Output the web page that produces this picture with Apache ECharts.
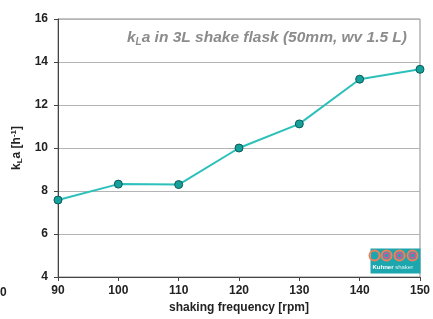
<!DOCTYPE html>
<html>
<head>
<meta charset="utf-8">
<script src="https://cdn.jsdelivr.net/npm/echarts@6/dist/echarts.min.js"></script>
<style>
  html, body { margin: 0; padding: 0; background: #fff; }
  #chart { width: 433px; height: 319px; }
</style>
</head>
<body>
<div id="chart"></div>
<script>
// shaking frequency [rpm] and measured kLa [1/h]
const rpm = [90, 100, 110, 120, 130, 140, 150]
const kla = [7.58, 8.32, 8.3, 10.0, 11.12, 13.2, 13.66]

const font = 'Liberation Sans, Arial, sans-serif'

const chart = echarts.init(document.getElementById('chart'))
chart.setOption({
  animation: false,
  backgroundColor: '#fff',
  grid: { left: 58, right: 12, top: 19, bottom: 42, show: true, borderColor: '#8a8a8a', borderWidth: 1 },
  title: {
    right: 21,
    top: 23,
    text: '{t|k}{s|L}{t|a in 3L shake flask (50mm, wv 1.5 L)}',
    textStyle: {
      rich: {
        t: { fontFamily: font, fontSize: 15.5, fontWeight: 'bold', fontStyle: 'italic', color: '#8c8c8c' },
        s: { fontFamily: font, fontSize: 10, fontWeight: 'bold', fontStyle: 'italic', color: '#8c8c8c', padding: [9, 0, 0, 0] }
      }
    }
  },
  xAxis: {
    type: 'value',
    min: 90,
    max: 150,
    interval: 10,
    name: 'shaking frequency [rpm]',
    nameLocation: 'middle',
    nameGap: 25,
    nameTextStyle: { fontFamily: font, fontSize: 12, fontWeight: 'bold', color: '#222' },
    axisLine: { lineStyle: { color: '#444' } },
    axisTick: { show: true, length: 4, lineStyle: { color: '#444' } },
    axisLabel: { fontFamily: font, fontSize: 12, fontWeight: 'bold', color: '#222', margin: 8 },
    splitLine: { show: false }
  },
  yAxis: {
    type: 'value',
    min: 4,
    max: 16,
    interval: 2,
    name: '{t|k}{s|L}{t|a [h}{p|-1}{t|]}',
    nameLocation: 'middle',
    nameRotate: 90,
    nameGap: 34,
    nameTextStyle: {
      rich: {
        t: { fontFamily: font, fontSize: 12, fontWeight: 'bold', color: '#222' },
        s: { fontFamily: font, fontSize: 8, fontWeight: 'bold', color: '#222', padding: [6, 0, 0, 0] },
        p: { fontFamily: font, fontSize: 8, fontWeight: 'bold', color: '#222', padding: [0, 0, 6, 0] }
      }
    },
    axisLine: { show: true, lineStyle: { color: '#444' } },
    axisTick: { show: true, length: 4, lineStyle: { color: '#444' } },
    axisLabel: { fontFamily: font, fontSize: 12, fontWeight: 'bold', color: '#222', margin: 10 },
    splitLine: { show: true, lineStyle: { color: '#b4b4b4', width: 1 } }
  },
  series: [{
    type: 'line',
    data: rpm.map((r, i) => [r, kla[i]]),
    symbol: 'circle',
    symbolSize: 8,
    lineStyle: { color: '#2cc0ba', width: 2 },
    itemStyle: { color: '#15a09c', borderColor: '#0b5c5a', borderWidth: 1 }
  }],
  graphic: [
    {
      type: 'text', left: 0, top: 287,
      style: { text: '0', fontFamily: font, fontSize: 12, fontWeight: 'bold', fill: '#222' }
    },
    {
      type: 'group', left: 367, top: 248,
      children: [
        { type: 'rect', shape: { x: 0, y: 0, width: 50, height: 25 }, style: { fill: '#1ca6ad' } },
        { type: 'circle', shape: { cx: 4, cy: 7, r: 5 }, style: { fill: 'none', stroke: '#f0805a', lineWidth: 2 } },
        { type: 'circle', shape: { cx: 16, cy: 7, r: 5 }, style: { fill: 'none', stroke: '#f0805a', lineWidth: 2 } },
        { type: 'circle', shape: { cx: 16, cy: 7, r: 2.5 }, style: { fill: 'none', stroke: '#d9559a', lineWidth: 1.5 } },
        { type: 'circle', shape: { cx: 29, cy: 7, r: 5 }, style: { fill: 'none', stroke: '#f0805a', lineWidth: 2 } },
        { type: 'circle', shape: { cx: 29, cy: 7, r: 2.5 }, style: { fill: 'none', stroke: '#d9559a', lineWidth: 1.5 } },
        { type: 'circle', shape: { cx: 42, cy: 7, r: 5 }, style: { fill: 'none', stroke: '#f0805a', lineWidth: 2 } },
        { type: 'circle', shape: { cx: 42, cy: 7, r: 2.5 }, style: { fill: 'none', stroke: '#d9559a', lineWidth: 1.5 } },
        { type: 'text', x: 2, y: 16, style: { text: '{b|Kuhner}{l| shaker}', rich: {
          b: { fontFamily: font, fontSize: 6, fontWeight: 'bold', fill: '#fff' },
          l: { fontFamily: font, fontSize: 6, fill: '#d8f2f2' }
        } } }
      ]
    }
  ]
})
</script>
</body>
</html>
